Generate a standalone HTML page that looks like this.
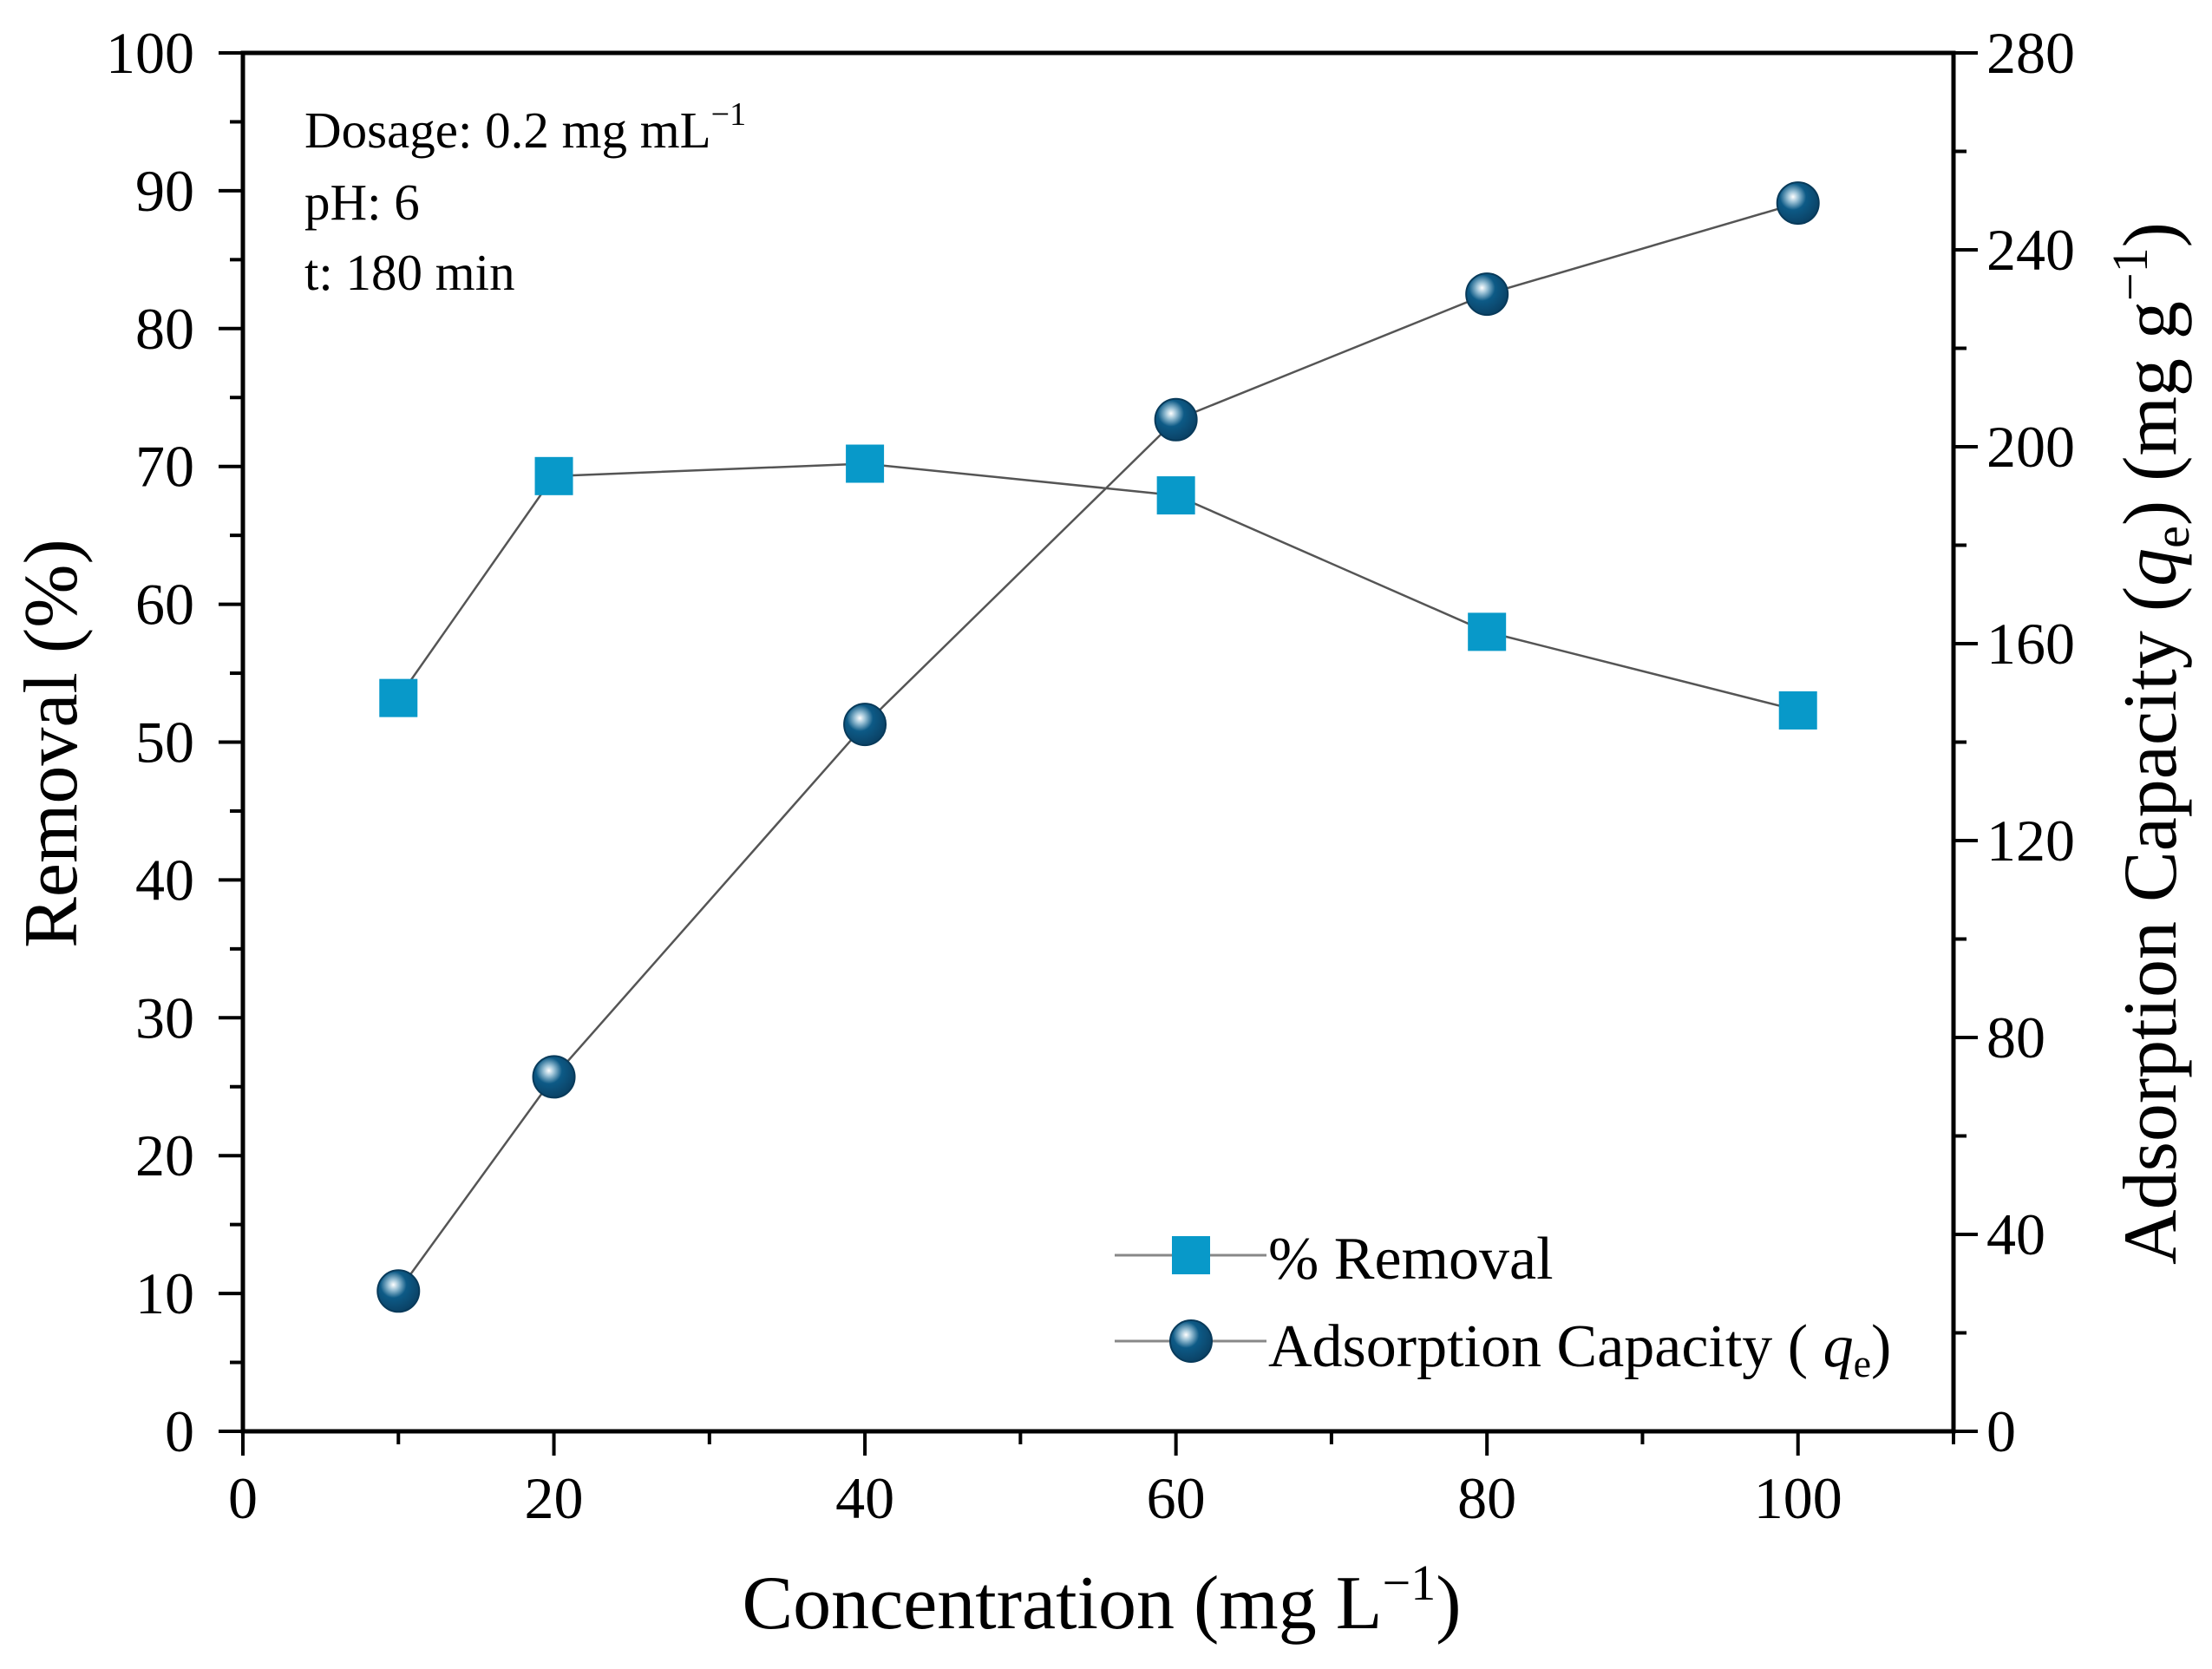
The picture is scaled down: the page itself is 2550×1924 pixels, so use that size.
<!DOCTYPE html>
<html><head><meta charset="utf-8"><style>
html,body{margin:0;padding:0;background:#fff;}
svg{display:block;font-family:"Liberation Serif",serif;}
</style></head><body>
<svg id="chart" width="2550" height="1924" viewBox="0 0 2550 1924" xmlns="http://www.w3.org/2000/svg">
<defs>
<radialGradient id="sph" cx="0.38" cy="0.35" r="0.7">
<stop offset="0" stop-color="#ffffff"/>
<stop offset="0.18" stop-color="#9cc2d6"/>
<stop offset="0.45" stop-color="#0d5a86"/>
<stop offset="1" stop-color="#0a3f62"/>
</radialGradient>
</defs>
<g id="plot"></g>
</svg>
<script>
const categories = [10, 20, 40, 60, 80, 100];
const removalValues = [53.2, 69.3, 70.2, 67.9, 58.0, 52.3];
const capacityValues = [28.5, 72, 143.6, 205.5, 231, 249.5];
const xTicks = [0, 20, 40, 60, 80, 100];
const leftTicks = [0,10,20,30,40,50,60,70,80,90,100];
const rightTicks = [0,40,80,120,160,200,240,280];

const L=280,R=2252,T=61,B=1650;
const xs=v=>L+(v/110)*(R-L);
const yl=v=>B-(v/100)*(B-T);
const yr=v=>B-(v/280)*(B-T);
const NS='http://www.w3.org/2000/svg';
const g=document.getElementById('plot');
function mk(t,a,parent){const e=document.createElementNS(NS,t);for(const k in a)e.setAttribute(k,a[k]);(parent||g).appendChild(e);return e;}

const frame=mk('rect',{x:L,y:T,width:R-L,height:B-T,fill:'none',stroke:'#000','stroke-width':5});



for(let v=0;v<=110;v+=10){const major=v%20===0;const t=mk('line',{x1:xs(v),x2:xs(v),y1:B,y2:B+(major?28:15),stroke:'#000','stroke-width':4});

}
xTicks.forEach(v=>{const t=mk('text',{x:xs(v),y:1750,'text-anchor':'middle','font-size':68});t.textContent=v;

});
for(let v=0;v<=100;v+=5){const major=v%10===0;const t=mk('line',{x1:L,x2:L-(major?28:15),y1:yl(v),y2:yl(v),stroke:'#000','stroke-width':4});

}
leftTicks.forEach(v=>{const t=mk('text',{x:224,y:yl(v)+23,'text-anchor':'end','font-size':68});t.textContent=v;

});
for(let v=0;v<=280;v+=20){const major=v%40===0;const t=mk('line',{x1:R,x2:R+(major?28:15),y1:yr(v),y2:yr(v),stroke:'#000','stroke-width':4});

}
rightTicks.forEach(v=>{const t=mk('text',{x:2290,y:yr(v)+23,'text-anchor':'start','font-size':68});t.textContent=v;

});

const l1=mk('polyline',{points:categories.map((c,i)=>xs(c)+','+yl(removalValues[i])).join(' '),fill:'none',stroke:'#555','stroke-width':2.5});


const l2=mk('polyline',{points:categories.map((c,i)=>xs(c)+','+yr(capacityValues[i])).join(' '),fill:'none',stroke:'#555','stroke-width':2.5});


categories.forEach((c,i)=>{
 const s=mk('rect',{x:xs(c)-22,y:yl(removalValues[i])-22,width:44,height:44,fill:'#0899c9'});
 
 
 const p=mk('circle',{cx:xs(c),cy:yr(capacityValues[i]),r:24,fill:'url(#sph)',stroke:'#083a5a','stroke-width':2});
 
 
});
</script>
<svg style="position:absolute;left:0;top:0" width="2550" height="1924" viewBox="0 0 2550 1924" xmlns="http://www.w3.org/2000/svg" font-family="Liberation Serif, serif">
<g font-size="59">
<text x="351" y="170">Dosage: 0.2 mg mL<tspan font-size="38" dy="-26">−1</tspan></text>
<text x="351" y="253" dy="0">pH: 6</text>
<text x="351" y="334">t: 180 min</text>
</g>
<text font-size="88" text-anchor="middle" transform="translate(88,857) rotate(-90)">Removal (%)</text>
<text font-size="88" text-anchor="middle" transform="translate(2508,857) rotate(-90)">Adsorption Capacity (<tspan font-style="italic">q</tspan><tspan font-size="58" dy="15">e</tspan><tspan dy="-15">) (mg g</tspan><tspan font-size="58" dy="-33">−1</tspan><tspan dy="33">)</tspan></text>
<text font-size="88" x="1270" y="1877" text-anchor="middle">Concentration (mg L<tspan font-size="58" dy="-33">−1</tspan><tspan dy="33">)</tspan></text>
<g>
<g>
<line x1="1285" x2="1460" y1="1447" y2="1447" stroke="#888" stroke-width="3"/>
<rect x="1351" y="1425" width="44" height="44" fill="#0899c9"/>
<text x="1462" y="1474" font-size="70">% Removal</text>
</g>
<g>
<line x1="1285" x2="1460" y1="1546" y2="1546" stroke="#888" stroke-width="3"/>
<circle cx="1373" cy="1546" r="24" fill="url(#sph2)" stroke="#083a5a" stroke-width="2"/>
<text x="1462" y="1575" font-size="70">Adsorption Capacity ( <tspan font-style="italic">q</tspan><tspan font-size="46" dy="12">e</tspan><tspan dy="-12">)</tspan></text>
</g>
</g>
<defs>
<radialGradient id="sph2" cx="0.38" cy="0.35" r="0.7">
<stop offset="0" stop-color="#ffffff"/>
<stop offset="0.18" stop-color="#9cc2d6"/>
<stop offset="0.45" stop-color="#0d5a86"/>
<stop offset="1" stop-color="#0a3f62"/>
</radialGradient>
</defs>
</svg>
</body></html>
